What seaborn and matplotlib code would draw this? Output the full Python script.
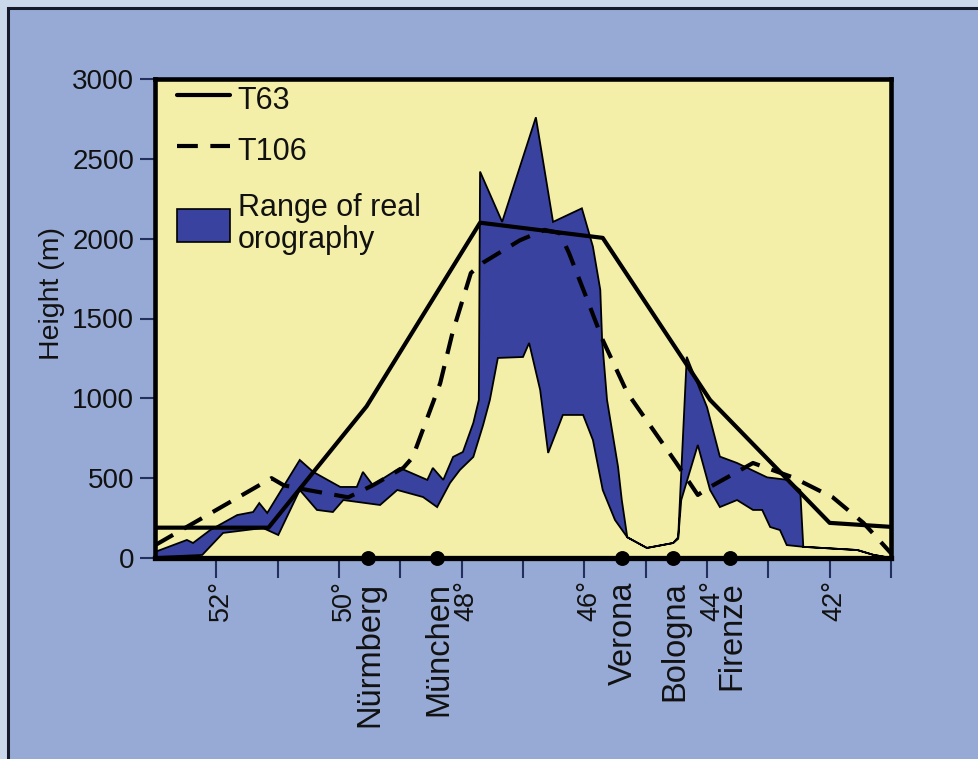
import numpy as np
import pandas as pd
import matplotlib
matplotlib.use("Agg")
import matplotlib.pyplot as plt
import seaborn as sns
from matplotlib.lines import Line2D
from matplotlib.patches import Patch, Rectangle
from matplotlib.transforms import ScaledTranslation

# ---------------- data ----------------
# T63 model orography (latitude in degrees N, height in m)
t63_lat = [53.0, 51.15, 49.55, 47.7, 45.7, 43.95, 42.0, 41.0]
t63_h = [190, 190, 950, 2100, 2005, 990, 220, 195]

# T106 model orography
t106_lat = [53.0, 51.1, 50.9, 50.5, 49.85, 49.45, 48.95, 48.8, 48.35, 48.15,
            47.85, 47.65, 47.05, 46.65, 46.4, 46.25, 45.95, 45.7, 45.3, 45.1,
            44.5, 44.15, 43.95, 43.25, 42.6, 41.95, 41.45, 41.0]
t106_h = [80, 500, 455, 425, 380, 455, 565, 630, 1095, 1410,
          1785, 1850, 1990, 2055, 2035, 1910, 1615, 1365, 1035, 925,
          595, 395, 445, 595, 505, 380, 220, 30]

# Range of real orography: upper envelope
upper_lat = [53.00, 52.48, 52.38, 52.10, 51.66, 51.40, 51.30, 51.17, 50.64, 50.42,
             49.98, 49.71, 49.61, 49.45, 49.01, 48.56, 48.47, 48.30, 48.14, 47.98,
             47.81, 47.72, 47.70, 47.34, 46.79, 46.51, 46.04, 45.86, 45.74, 45.71,
             45.63, 45.45, 45.39, 45.30, 44.98, 44.55, 44.47, 44.33, 44.00, 43.79,
             43.51, 43.02, 42.70, 42.48, 42.43, 41.55, 41.29, 41.00]
upper_h = [38, 113, 94, 175, 269, 288, 344, 282, 614, 539,
           445, 445, 539, 457, 564, 489, 564, 489, 633, 664,
           846, 990, 2420, 2105, 2760, 2105, 2190, 1950, 1680, 1365,
           990, 570, 365, 130, 63, 94, 130, 1260, 945, 635,
           595, 505, 490, 425, 70, 50, 20, 0]

# Range of real orography: lower envelope
lower_lat = [53.00, 52.23, 51.89, 51.24, 50.99, 50.64, 50.36, 50.10, 49.93, 49.33,
             49.05, 48.63, 48.40, 48.19, 48.03, 47.81, 47.65, 47.54, 47.41, 47.00,
             46.90, 46.72, 46.59, 46.35, 46.02, 45.86, 45.70, 45.50, 45.30, 44.98,
             44.55, 44.47, 44.42, 44.15, 43.95, 43.79, 43.51, 43.25, 43.10, 42.97,
             42.81, 42.70, 42.43, 41.55, 41.29, 41.00]
lower_h = [6, 19, 157, 188, 144, 426, 301, 288, 363, 332,
           426, 382, 319, 470, 551, 633, 833, 990, 1253, 1259,
           1347, 1052, 658, 896, 896, 739, 426, 238, 130, 63,
           94, 120, 363, 708, 426, 319, 363, 301, 301, 194,
           175, 81, 70, 50, 20, 0]

# Cities along the section
city_names = ["Nürmberg", "München", "Verona", "Bologna", "Firenze"]
city_lat = [49.53, 48.40, 45.39, 44.55, 43.62]

# Axis ticks
lat_ticks = list(range(41, 53))
lat_labels = [f"{d}°" if d % 2 == 0 else "" for d in lat_ticks]
h_ticks = [0, 500, 1000, 1500, 2000, 2500, 3000]

line_labels = ["T63", "T106"]
range_label = "Range of real\norography"

# ---------------- style ----------------
BG = "#97AAD6"
OUTER = "#cbd8eb"
YELLOW = "#F3EFA8"
FILLC = "#3A42A0"
TICKC = "#23305e"
NARROW = ["Liberation Sans Narrow", "Liberation Sans", "DejaVu Sans"]

sns.set_theme(style="white")
plt.rcParams["font.family"] = ["Liberation Sans", "DejaVu Sans"]

fig = plt.figure(figsize=(9.79, 7.59), dpi=100)
fig.patch.set_facecolor(OUTER)
fig.add_artist(Rectangle((8.5 / 979, -0.1), 1.2, (759 - 8.5) / 759 + 0.1,
                         transform=fig.transFigure, facecolor=BG,
                         edgecolor="#15192a", linewidth=2.2, zorder=-1))

ax = fig.add_axes([155 / 979, 1 - 558 / 759, 736 / 979, 479 / 759])
ax.set_facecolor(YELLOW)

# range of real orography
poly_x = np.concatenate([upper_lat, lower_lat[::-1]])
poly_y = np.concatenate([upper_h, lower_h[::-1]])
ax.fill(poly_x, poly_y, facecolor=FILLC, edgecolor="black", linewidth=1.3, zorder=2)

df63 = pd.DataFrame({"lat": t63_lat, "h": t63_h})
df106 = pd.DataFrame({"lat": t106_lat, "h": t106_h})
sns.lineplot(data=df63, x="lat", y="h", ax=ax, color="black", linewidth=3,
             estimator=None, sort=False, zorder=4)
sns.lineplot(data=df106, x="lat", y="h", ax=ax, color="black", linewidth=3,
             linestyle=(0, (5, 3)), estimator=None, sort=False, zorder=4)

ax.scatter(city_lat, np.zeros(len(city_lat)), s=115, color="black", zorder=6,
           clip_on=False, linewidths=0)

ax.set_xlim(53, 41)
ax.set_ylim(0, 3000)
ax.set_xlabel("")
ax.set_ylabel("Height (m)", fontsize=20.5, color="#111111")
ax.yaxis.set_label_coords(-0.122, 0.552)

ax.set_xticks(lat_ticks)
ax.set_xticklabels(lat_labels)
ax.set_xticks(city_lat, minor=True)
ax.set_xticklabels(city_names, minor=True)
ax.tick_params(axis="x", which="major", direction="out", length=14.4, width=1.5,
               color=TICKC, pad=1.5, labelsize=19.5, labelrotation=90, labelcolor="#111111",
               bottom=True)
ax.tick_params(axis="x", which="minor", direction="out", length=0, pad=17,
               labelsize=23.5, labelrotation=90, labelcolor="#111111", bottom=True)

# nudge rotated labels so their glyphs sit where the reference has them
deg_shift = ScaledTranslation(5 / 100, 0, fig.dpi_scale_trans)
city_shift = ScaledTranslation(2 / 100, 0, fig.dpi_scale_trans)
for lbl in ax.xaxis.get_majorticklabels():
    lbl.set_transform(lbl.get_transform() + deg_shift)
for lbl in ax.xaxis.get_minorticklabels():
    lbl.set_transform(lbl.get_transform() + city_shift)

ax.set_yticks(h_ticks)
ax.set_yticklabels([str(v) for v in h_ticks])
ax.tick_params(axis="y", direction="out", length=10.8, width=1.5, color=TICKC,
               pad=4.3, labelsize=20, labelcolor="#111111", left=True)
for lbl in ax.get_yticklabels():
    lbl.set_fontfamily(NARROW)

for name, s in ax.spines.items():
    s.set_color("black")
    s.set_linewidth(3.3)
    s.set_visible(True)
ax.spines["bottom"].set_linewidth(3.8)
ax.grid(False)

# legend: model lines
line_handles = [Line2D([], [], color="black", lw=3),
                Line2D([], [], color="black", lw=3, ls=(0, (5, 3)))]
leg1 = ax.legend(line_handles, line_labels, loc="upper left",
                 bbox_to_anchor=(22 / 736, 1 - 3 / 479), frameon=False,
                 fontsize=22, handlelength=1.73, handleheight=1.3,
                 handletextpad=0.26, labelspacing=0.56, borderpad=0, borderaxespad=0)
for t in leg1.get_texts():
    t.set_color("#111111")
ax.add_artist(leg1)

# legend: orography range
leg2 = ax.legend([Patch(facecolor=FILLC, edgecolor="black", lw=1.2)], [range_label],
                 loc="center left", bbox_to_anchor=(22 / 736, (558 - 224) / 479),
                 frameon=False, fontsize=22, handlelength=1.73, handleheight=1.3,
                 handletextpad=0.26, borderpad=0, borderaxespad=0)
for t in leg2.get_texts():
    t.set_linespacing(1.1)
    t.set_color("#111111")

fig.savefig("out.png", dpi=100, facecolor=fig.get_facecolor())
